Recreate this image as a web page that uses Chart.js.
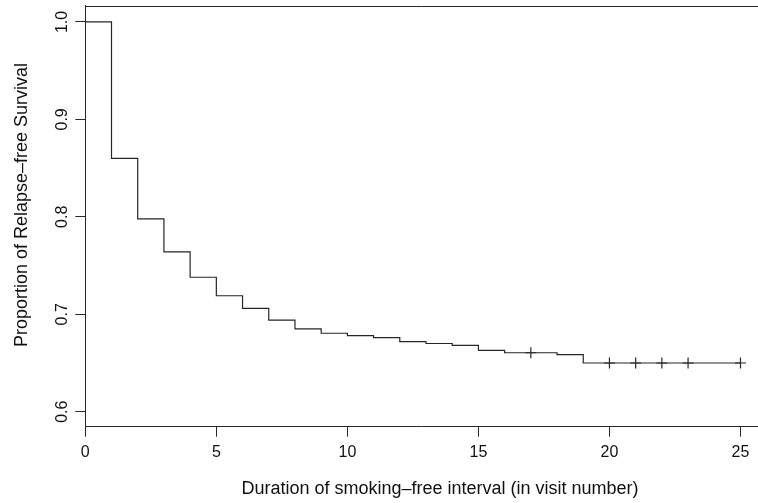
<!DOCTYPE html>
<html>
<head>
<meta charset="utf-8">
<script src="https://cdn.jsdelivr.net/npm/chart.js@4/dist/chart.umd.min.js"></script>
<style>
html,body{margin:0;padding:0;background:#fff;}
#wrap{width:758px;height:503px;position:relative;}
</style>
</head>
<body>
<div id="wrap"><canvas id="c" width="758" height="503"></canvas></div>
<script>
// Kaplan-Meier step function: event times and survival after each time
const times = [0, 1, 2, 3, 4, 5, 6, 7, 8, 9, 10, 11, 12, 13, 14, 15, 16, 18, 19, 25];
const survival = [1.0, 0.860, 0.798, 0.764, 0.738, 0.719, 0.706, 0.694, 0.685, 0.6805, 0.678, 0.676, 0.672, 0.670, 0.668, 0.663, 0.6605, 0.6585, 0.650, 0.650];
// censoring marks
const censorTimes = [17, 20, 21, 22, 23, 25];
const xTicks = [0, 5, 10, 15, 20, 25];
const yTicks = [0.6, 0.7, 0.8, 0.9, 1.0];
const xTitle = 'Duration of smoking\u2013free interval (in visit number)';
const yTitle = 'Proportion of Relapse\u2013free Survival';

function survAt(t) {
  let s = survival[0];
  for (let i = 0; i < times.length; i++) { if (times[i] <= t) s = survival[i]; }
  return s;
}

const FONT = '"Liberation Sans", Arial, Helvetica, sans-serif';
const LINE = '#262626';

const curve = times.map((t, i) => ({x: t, y: survival[i]}));
const censor = censorTimes.map(t => ({x: t, y: survAt(t)}));

const framePlugin = {
  id: 'frame',
  afterDraw(chart) {
    const ctx = chart.ctx;
    const a = chart.chartArea;
    const ys = chart.scales.y;
    ctx.save();
    // top border of the box
    ctx.strokeStyle = LINE;
    ctx.lineWidth = 1;
    ctx.beginPath();
    ctx.moveTo(a.left, Math.round(a.top) + 0.5);
    ctx.lineTo(chart.width, Math.round(a.top) + 0.5);
    ctx.stroke();
    // rotated y tick labels
    ctx.fillStyle = '#111';
    ctx.font = '16px ' + FONT;
    ctx.textAlign = 'center';
    ctx.textBaseline = 'alphabetic';
    yTicks.forEach(v => {
      const py = ys.getPixelForValue(v);
      ctx.save();
      ctx.translate(66.5, py);
      ctx.rotate(-Math.PI / 2);
      ctx.fillText(v.toFixed(1), 0, 0);
      ctx.restore();
    });
    // axis titles
    ctx.font = '18px ' + FONT;
    ctx.save();
    ctx.translate(26.5, 205);
    ctx.rotate(-Math.PI / 2);
    ctx.fillText(yTitle, 0, 0);
    ctx.restore();
    ctx.fillText(xTitle, 440, 493.5);
    ctx.restore();
  }
};

function noPad(scale) {
  scale.paddingLeft = 0; scale.paddingRight = 0;
  scale.paddingTop = 0; scale.paddingBottom = 0;
}

new Chart(document.getElementById('c'), {
  type: 'scatter',
  data: {
    datasets: [
      {
        data: curve,
        showLine: true,
        stepped: 'before',
        borderColor: LINE,
        borderWidth: 1.2,
        pointRadius: 0,
        fill: false
      },
      {
        data: censor,
        showLine: false,
        pointStyle: 'cross',
        pointRadius: 5.5,
        pointBorderColor: LINE,
        pointBorderWidth: 1.2,
        pointBackgroundColor: LINE
      }
    ]
  },
  options: {
    responsive: false,
    animation: false,
    devicePixelRatio: 1,
    layout: {autoPadding: false, padding: {top: 5.7, right: 1, left: 0, bottom: 0}},
    plugins: {legend: {display: false}, tooltip: {enabled: false}},
    scales: {
      x: {
        type: 'linear',
        min: 0,
        max: 25.63,
        afterBuildTicks(scale) { scale.ticks = xTicks.map(v => ({value: v})); },
        afterFit(scale) { scale.height = 503 - 5.7 - 421; noPad(scale); },
        grid: {drawOnChartArea: false, drawTicks: true, tickLength: 10, tickColor: LINE, tickWidth: 1},
        border: {display: true, color: LINE, width: 1},
        ticks: {color: '#111', font: {size: 16, family: FONT}, padding: 6, maxRotation: 0, callback: v => String(v)},
        title: {display: false}
      },
      y: {
        type: 'linear',
        min: 0.5846,
        max: 1.0167,
        afterBuildTicks(scale) { scale.ticks = yTicks.map(v => ({value: v})); },
        afterFit(scale) { scale.width = 85.3; noPad(scale); },
        grid: {drawOnChartArea: false, drawTicks: true, tickLength: 10, tickColor: LINE, tickWidth: 1},
        border: {display: true, color: LINE, width: 1},
        ticks: {display: true, color: 'rgba(0,0,0,0)', font: {size: 16, family: FONT}, callback: () => ''}
      }
    }
  },
  plugins: [framePlugin]
});
</script>
</body>
</html>
